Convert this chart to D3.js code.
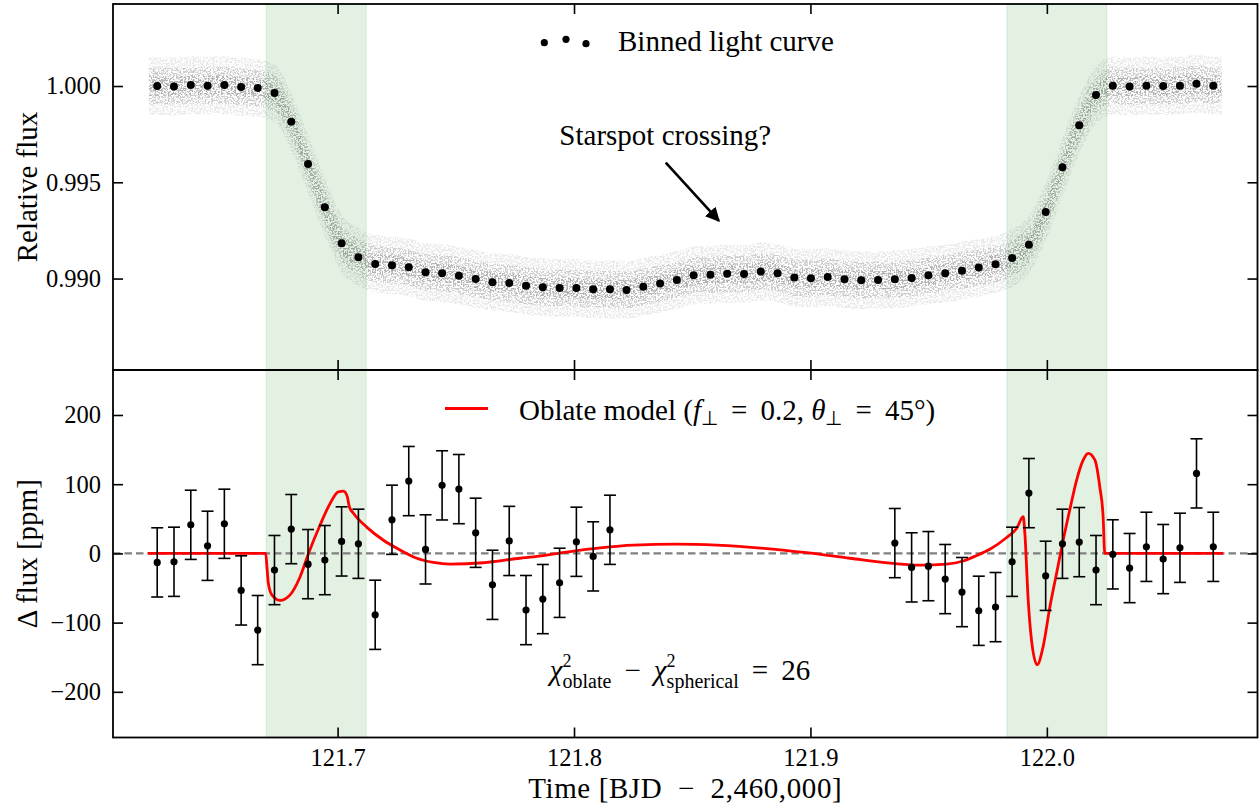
<!DOCTYPE html>
<html>
<head>
<meta charset="utf-8">
<script src="https://cdn.jsdelivr.net/npm/d3@7"></script>
<style>
  body { margin: 0; background: #fff; }
  svg, svg text { font-family: "Liberation Serif", "Times New Roman", serif; }
  svg { display: block; }
  text { white-space: pre; }
</style>
</head>
<body>
<svg id="chart" width="1260" height="806"></svg>
<script>
// ---- data ----
var binTime = [121.6237,121.6308,121.6379,121.6450,121.6521,121.6592,121.6662,121.6733,121.6804,121.6875,
               121.6946,121.7017,121.7088,121.7159,121.7230,121.7301,121.7372,121.7442,121.7513,121.7584,
               121.7655,121.7726,121.7797,121.7868,121.7939,121.8010,121.8081,121.8152,121.8222,121.8293,
               121.8364,121.8435,121.8506,121.8577,121.8648,121.8719,121.8790,121.8861,121.8932,121.9002,
               121.9073,121.9144,121.9215,121.9286,121.9357,121.9428,121.9499,121.9570,121.9641,121.9712,
               121.9783,121.9853,121.9924,121.9995,122.0066,122.0137,122.0208,122.0279,122.0350,122.0421,
               122.0492,122.0563,122.0633,122.0704];
var binFlux = [1.00000,0.99998,1.00005,1.00002,1.00005,0.99995,0.99990,0.99964,0.99815,0.99595,
               0.99370,0.99183,0.99111,0.99076,0.99069,0.99059,0.99033,0.99028,0.99015,0.98998,
               0.98981,0.98977,0.98962,0.98955,0.98951,0.98951,0.98944,0.98944,0.98941,0.98958,
               0.98974,0.98993,0.99017,0.99020,0.99025,0.99024,0.99036,0.99027,0.99005,0.99002,
               0.99008,0.98996,0.98991,0.98993,0.98996,0.99003,0.99017,0.99027,0.99041,0.99057,
               0.99074,0.99107,0.99176,0.99346,0.99578,0.99796,0.99953,1.00002,0.99998,1.00002,
               1.00000,1.00002,1.00012,1.00002];
// residuals in ppm, null where no residual is shown
var residPpm = [-13.0,-12.1,41.3,11.0,42.8,-53.5,-110.8,-24.1,35.1,-15.5,
                -9.7,17.3,13.9,-88.7,48.6,104.5,5.8,98.3,92.9,29.8,
                -45.4,18.0,-81.9,-66.0,-42.5,16.8,-4.3,34.1,null,null,
                null,null,null,null,null,null,null,null,null,null,
                null,null,null,null,14.9,-20.2,-18.4,-37.1,-55.9,-82.9,
                -77.6,-12.1,87.1,-32.4,13.9,16.3,-24.1,-1.4,-21.2,9.5,
                -8.2,8.1,115.6,9.5];
var residErr = 50;
var modelTime = [121.6197,121.6696,121.6701,121.6707,121.6722,121.6757,121.6799,121.6841,121.6877,121.6926,
                 121.6968,121.7003,121.7025,121.7041,121.7050,121.7067,121.7123,121.7194,121.7264,121.7335,
                 121.7405,121.7476,121.7617,121.7772,121.7828,121.7969,121.8110,121.8251,121.8434,121.8603,
                 121.8815,121.8984,121.9167,121.9350,121.9463,121.9576,121.9646,121.9703,121.9759,121.9830,
                 121.9872,121.9900,121.9907,121.9921,121.9935,121.9959,121.9984,122.0013,122.0041,122.0069,
                 122.0097,122.0126,122.0154,122.0175,122.0203,122.0224,122.0238,122.0245,122.0746];
var modelPpm = [0,0,-19,-43,-60,-68,-60,-34,0,41,
                72,89,90,82,67,58,38,19,5,-7,
                -13,-15.5,-13.5,-7,-5,2,8,12,13.4,12,
                7,1,-7,-14.5,-17,-15.5,-11,-3,6,23,
                36,53,29,-67,-125,-161,-135,-77,-29,19,
                63,106,135,144.5,135,96,53,0,0];
var bandStart = [121.6698, 121.9831];
var bandEnd = [121.7121, 122.0254];
var xTicks = [121.7, 121.8, 121.9, 122.0];
var fluxTicks = [0.990, 0.995, 1.000];
var ppmTicks = [-200, -100, 0, 100, 200];
var cloudSpread = [0.0015, 0.00095, 0.0005];   // half widths of the raw-point cloud
var cloudAlpha = [0.09, 0.12, 0.13];

// ---- layout ----
var svg = d3.select("#chart");
var X0 = 113, X1 = 1257.5;
var top0 = 4, mid = 370, bot = 737.5;
var TICK_FONT = 24.5, LABEL_FONT = 29, SERIF = '"Liberation Serif", "Times New Roman", serif';

var x = d3.scaleLinear().domain([121.6050, 122.0891]).range([X0, X1]);
var yTop = d3.scaleLinear().domain([0.98525, 1.00426]).range([mid, top0]);
var yBot = d3.scaleLinear().domain([-266, 265]).range([bot, mid]);

var defs = svg.append("defs");
var speck = defs.append("filter").attr("id", "speck")
  .attr("filterUnits", "userSpaceOnUse").attr("x", 0).attr("y", 0).attr("width", 1260).attr("height", 806);
speck.append("feTurbulence").attr("type", "fractalNoise").attr("baseFrequency", 0.6)
  .attr("numOctaves", 2).attr("seed", 11).attr("result", "noise");
speck.append("feColorMatrix").attr("in", "noise").attr("type", "matrix")
  .attr("values", "0 0 0 0 0  0 0 0 0 0  0 0 0 0 0  7 0 0 0 -3.1").attr("result", "dots");
speck.append("feComposite").attr("in", "SourceGraphic").attr("in2", "dots").attr("operator", "in");

defs.append("marker").attr("id", "arrowhead").attr("viewBox", "0 0 10 10")
  .attr("refX", 9).attr("refY", 5).attr("markerWidth", 5.5).attr("markerHeight", 5.5)
  .attr("markerUnits", "strokeWidth").attr("orient", "auto")
  .append("path").attr("d", "M0,0 L10,5 L0,10 z").attr("fill", "#000");

// green ingress / egress bands
function drawBands(y0, y1) {
  bandStart.forEach(function(s, i) {
    svg.append("rect")
      .attr("x", x(s)).attr("y", y0)
      .attr("width", x(bandEnd[i]) - x(s)).attr("height", y1 - y0)
      .attr("fill", "green").attr("fill-opacity", 0.11)
      .attr("stroke", "green").attr("stroke-opacity", 0.1).attr("stroke-width", 1.2);
  });
}
drawBands(top0, mid);
drawBands(mid, bot);

// ---- top panel: raw cloud + binned light curve ----
var dt = binTime[1] - binTime[0];
var cloud = binTime.map(function(t, i) { return [t, binFlux[i]]; });
cloud.unshift([binTime[0] - dt / 2, binFlux[0]]);
cloud.push([binTime[binTime.length - 1] + dt / 2, binFlux[binFlux.length - 1]]);

var cloudG = svg.append("g").attr("filter", "url(#speck)");
cloudSpread.forEach(function(s, k) {
  cloudG.append("path")
    .datum(cloud)
    .attr("d", d3.area()
      .x(function(d) { return x(d[0]); })
      .y0(function(d) { return yTop(d[1] - s); })
      .y1(function(d) { return yTop(d[1] + s); })
      .curve(d3.curveMonotoneX))
    .attr("fill", "#000").attr("fill-opacity", cloudAlpha[k]);
});

svg.append("g").selectAll("circle")
  .data(binTime)
  .enter().append("circle")
  .attr("cx", function(d) { return x(d); })
  .attr("cy", function(d, i) { return yTop(binFlux[i]); })
  .attr("r", 4).attr("fill", "#000");

// ---- bottom panel: residuals + model ----
svg.append("line")
  .attr("x1", X0).attr("x2", X1).attr("y1", yBot(0)).attr("y2", yBot(0))
  .attr("stroke", "#808080").attr("stroke-width", 2.2).attr("stroke-dasharray", "7.5,4");

svg.append("path")
  .datum(modelTime.map(function(t, i) { return [t, modelPpm[i]]; }))
  .attr("d", d3.line()
    .x(function(d) { return x(d[0]); })
    .y(function(d) { return yBot(d[1]); })
    .curve(d3.curveMonotoneX))
  .attr("fill", "none").attr("stroke", "#ff0000").attr("stroke-width", 2.8);

var resid = binTime.map(function(t, i) { return { t: t, v: residPpm[i] }; })
  .filter(function(d) { return d.v !== null; });
var eb = svg.append("g").attr("stroke", "#000").attr("stroke-width", 1.6);
resid.forEach(function(d) {
  var cx = x(d.t), yHi = yBot(d.v + residErr), yLo = yBot(d.v - residErr);
  eb.append("line").attr("x1", cx).attr("x2", cx).attr("y1", yHi).attr("y2", yLo);
  eb.append("line").attr("x1", cx - 6).attr("x2", cx + 6).attr("y1", yHi).attr("y2", yHi);
  eb.append("line").attr("x1", cx - 6).attr("x2", cx + 6).attr("y1", yLo).attr("y2", yLo);
});
svg.append("g").selectAll("circle")
  .data(resid)
  .enter().append("circle")
  .attr("cx", function(d) { return x(d.t); })
  .attr("cy", function(d) { return yBot(d.v); })
  .attr("r", 3.6).attr("fill", "#000");

// ---- axes (inward ticks on all sides) ----
function styleAxis(g) {
  g.attr("font-family", SERIF).attr("font-size", TICK_FONT);
  g.select(".domain").remove();
  g.selectAll(".tick line").attr("stroke", "#000").attr("stroke-width", 1.6);
  g.selectAll(".tick text").attr("font-family", SERIF).attr("font-size", TICK_FONT).attr("fill", "#000");
}
function drawPanelAxes(yScale, ticks, fmt, y0, y1, xLabels) {
  svg.append("g").attr("transform", "translate(" + X0 + ",0)")
    .call(d3.axisLeft(yScale).tickValues(ticks).tickSize(-10).tickPadding(12).tickFormat(fmt))
    .call(styleAxis);
  svg.append("g").attr("transform", "translate(" + X1 + ",0)")
    .call(d3.axisRight(yScale).tickValues(ticks).tickSize(-10).tickFormat(""))
    .call(styleAxis);
  svg.append("g").attr("transform", "translate(0," + y0 + ")")
    .call(d3.axisTop(x).tickValues(xTicks).tickSize(-10).tickFormat(""))
    .call(styleAxis);
  svg.append("g").attr("transform", "translate(0," + y1 + ")")
    .call(d3.axisBottom(x).tickValues(xTicks).tickSize(-10).tickPadding(11)
      .tickFormat(xLabels ? d3.format(".1f") : ""))
    .call(styleAxis);
  svg.append("rect").attr("x", X0).attr("y", y0).attr("width", X1 - X0).attr("height", y1 - y0)
    .attr("fill", "none").attr("stroke", "#000").attr("stroke-width", 1.8);
}
drawPanelAxes(yTop, fluxTicks, d3.format(".3f"), top0, mid, false);
drawPanelAxes(yBot, ppmTicks, d3.format("d"), mid, bot, true);

// axis labels
function label(sel) { return sel.attr("font-family", SERIF).attr("font-size", LABEL_FONT).attr("fill", "#000"); }
svg.append("text")
  .attr("transform", "translate(37," + ((top0 + mid) / 2) + ") rotate(-90)")
  .attr("text-anchor", "middle").call(label)
  .text("Relative flux");
svg.append("text")
  .attr("transform", "translate(37," + ((mid + bot) / 2) + ") rotate(-90)")
  .attr("text-anchor", "middle").call(label)
  .text("\u0394 flux [ppm]");
svg.append("text")
  .attr("x", (X0 + X1) / 2).attr("y", 798)
  .attr("text-anchor", "middle").call(label)
  .attr("letter-spacing", 0.6)
  .text("Time [BJD  \u2212  2,460,000]");

// ---- rich text helper: one <text>, tspans placed piece by piece ----
function richText(x0, y0, pieces, anchor) {
  var t = svg.append("text").call(label);
  var cx = 0;
  function put(p) {
    var s = t.append("tspan").attr("x", cx).attr("y", p.dy || 0)
      .attr("font-size", p.size || LABEL_FONT).text(p.text);
    if (p.italic) s.attr("font-style", "italic");
    return s.node().getComputedTextLength();
  }
  pieces.forEach(function(p) {
    if (p.stack) {
      var w = 0;
      p.stack.forEach(function(s) { w = Math.max(w, put(s)); });
      cx += w;
    } else {
      cx += put(p);
    }
  });
  var shift = anchor === "middle" ? -cx / 2 : 0;
  t.attr("transform", "translate(" + (x0 + shift) + "," + y0 + ")");
  return t;
}

// ---- legends and annotations ----
var legDots = [[544.3, 42.7], [566, 39.3], [586, 43.7]];
svg.append("g").selectAll("circle").data(legDots).enter().append("circle")
  .attr("cx", function(d) { return d[0]; }).attr("cy", function(d) { return d[1]; })
  .attr("r", 3.6).attr("fill", "#000");
svg.append("text").attr("x", 618).attr("y", 51).call(label).text("Binned light curve");

svg.append("line").attr("x1", 445).attr("x2", 488).attr("y1", 408.5).attr("y2", 408.5)
  .attr("stroke", "#ff0000").attr("stroke-width", 2.8);
var SUB = 20;
richText(519, 419.5, [
  { text: "Oblate model (" },
  { text: "f", italic: true },
  { text: "\u22a5", size: SUB, dy: 5 },
  { text: " \u2009=\u2009 0.2, " },
  { text: "\u03b8", italic: true },
  { text: "\u22a5", size: SUB, dy: 5 },
  { text: " \u2009=\u2009 45\u00b0)" }
], "start");

richText(680, 680, [
  { text: "\u03c7", italic: true },
  { stack: [{ text: "2", size: 18, dy: -13 }, { text: "oblate", size: SUB, dy: 8 }] },
  { text: " \u2009\u2212\u2009 " },
  { text: "\u03c7", italic: true },
  { stack: [{ text: "2", size: 18, dy: -13 }, { text: "spherical", size: SUB, dy: 8 }] },
  { text: " \u2009=\u2009 26" }
], "middle");

// starspot annotation (positions in data coordinates)
svg.append("text").attr("x", x(121.7938)).attr("y", yTop(0.99694))
  .call(label).text("Starspot crossing?");
svg.append("line")
  .attr("x1", x(121.8388)).attr("y1", yTop(0.99602))
  .attr("x2", x(121.8613)).attr("y2", yTop(0.99299))
  .attr("stroke", "#000").attr("stroke-width", 2.6)
  .attr("marker-end", "url(#arrowhead)");
</script>
</body>
</html>
